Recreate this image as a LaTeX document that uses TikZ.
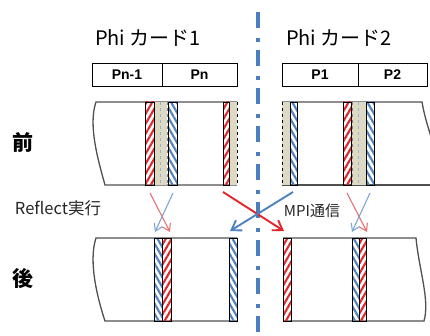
\documentclass[tikz,border=0pt]{standalone}
\usepackage{fontspec}
\setmainfont{Noto Sans CJK JP}
\newfontfamily\libsans{Liberation Sans}
\usetikzlibrary{patterns.meta,arrows.meta}
\definecolor{hred}{HTML}{E3262B}
\definecolor{hblue}{HTML}{4F81BD}
\definecolor{beigec}{HTML}{DDD9C3}
\definecolor{sepblue}{HTML}{4A7EBF}
\definecolor{lred}{HTML}{E57373}
\definecolor{lblue}{HTML}{7FA6D6}
\definecolor{panelc}{HTML}{505050}
\definecolor{dashblue}{HTML}{8FB3DC}
\tikzset{
  redh/.style={pattern={Lines[angle=60,distance=5pt,line width=2.1pt]},pattern color=hred,draw=black,line width=0.9pt},
  blueh/.style={pattern={Lines[angle=-60,distance=5pt,line width=2.1pt]},pattern color=hblue,draw=black,line width=0.9pt},
  beigebox/.style={fill=beigec,draw=none},
  panel/.style={draw=panelc,line width=1.3pt},
  cellbox/.style={draw=black,line width=0.8pt,minimum height=23pt,inner sep=0pt,font=\libsans\bfseries\fontsize{14}{16}\selectfont},
  title/.style={font=\fontsize{20}{23}\selectfont,inner sep=0pt},
  side/.style={font=\bfseries\fontsize{21}{24}\selectfont,inner sep=0pt},
  lab/.style={font=\fontsize{16.5}{19}\selectfont,inner sep=0pt,text=black!85},
  lab2/.style={font=\fontsize{15}{18}\selectfont,inner sep=0pt,text=black!85},
  sarrow/.style={line width=1.1pt,-{Straight Barb[length=7pt,width=9pt]}},
  larrow/.style={line width=1.9pt,-{Straight Barb[length=9pt,width=12pt]}},
  halo/.style={dashed,line width=0.7pt},
}
\begin{document}
\begin{tikzpicture}[x=1pt,y=-1pt]
\useasboundingbox (0,0) rectangle (430,336);
\fill[white] (0,0) rectangle (430,336);
% separator
\draw[sepblue,line width=3.5pt,dash pattern=on 16pt off 10pt on 4pt off 8pt] (258,12) -- (258,336);
% titles
\node[title] (t1) at (148,38) {Phi カード1};
\node[title] (t2) at (339,38) {Phi カード2};
% tables
\node[cellbox,minimum width=70pt] (c1) at (127,74.5) {Pn-1};
\node[cellbox,minimum width=75pt] (c2) at (199.5,74.5) {Pn};
\node[cellbox,minimum width=76pt] (c3) at (320,74.5) {P1};
\node[cellbox,minimum width=69pt] (c4) at (392.5,74.5) {P2};
% side labels
\node[side] (mae) at (23,142) {前};
\node[side] (ato) at (23,279) {後};
% panels
\begin{scope}
\clip (0,0) rectangle (430,336);
\draw[panel] (237,102) -- (96,102) .. controls (88,125) and (98,160) .. (105,185) -- (237,185);
\draw[panel] (282,102) -- (422,102) .. controls (425,120) and (431,135) .. (436,155);
\draw[panel] (282,185) -- (432,185);
\draw[panel] (237,238) -- (96,238) .. controls (88,262) and (98,300) .. (105,321) -- (237,321);
\draw[panel] (283,238) -- (416,238) .. controls (419,270) and (430,300) .. (424,321) -- (283,321);
\end{scope}
% top-left strips
\fill[beigebox] (154,102) rectangle (167,185);
\draw[halo,dashblue] (160.5,102) -- (160.5,185);
\draw[halo,gray] (167,102) -- (167,185);
\draw[redh] (145,102) rectangle (154,185);
\draw[blueh] (168,102) rectangle (177,185);
\fill[beigebox] (229,102) rectangle (237,185);
\draw[redh] (223,102) rectangle (229,185);
\draw[halo,black] (237,102) -- (237,185);
% top-right strips
\fill[beigebox] (282,102) rectangle (290,185);
\draw[halo,black] (282,102) -- (282,185);
\draw[blueh] (290,102) rectangle (297,185);
\fill[beigebox] (351,102) rectangle (366,185);
\draw[halo,gray] (352,102) -- (352,185);
\draw[halo,dashblue] (358.5,102) -- (358.5,185);
\draw[redh] (343,102) rectangle (351,185);
\draw[blueh] (366,102) rectangle (374,185);
% bottom-left strips
\draw[blueh] (154,238) rectangle (162,321);
\draw[redh] (162,238) rectangle (171,321);
\draw[blueh] (229,238) rectangle (237,321);
% bottom-right strips
\draw[redh] (283,238) rectangle (291,321);
\draw[blueh] (352,238) rectangle (359,321);
\draw[redh] (359,238) rectangle (366,321);
% labels
\node[lab] (refl) at (58,208) {Reflect実行};
\node[lab2] (mpi) at (312,211) {MPI通信};
% arrow end points
\coordinate (a1s) at (150,193); \coordinate (a1e) at (170,232);
\coordinate (a2s) at (173,193); \coordinate (a2e) at (155,232);
\coordinate (a3s) at (223,192); \coordinate (a3e) at (284,231);
\coordinate (a4s) at (293,192); \coordinate (a4e) at (230,231);
\coordinate (a5s) at (347,193); \coordinate (a5e) at (367,232);
\coordinate (a6s) at (370,193); \coordinate (a6e) at (352,232);
\draw[sarrow,lred] (a1s) -- (a1e);
\draw[sarrow,lblue] (a2s) -- (a2e);
\draw[larrow,hred] (a3s) -- (a3e);
\draw[larrow,hblue] (a4s) -- (a4e);
\draw[sarrow,lred] (a5s) -- (a5e);
\draw[sarrow,lblue] (a6s) -- (a6e);
\end{tikzpicture}
\end{document}
